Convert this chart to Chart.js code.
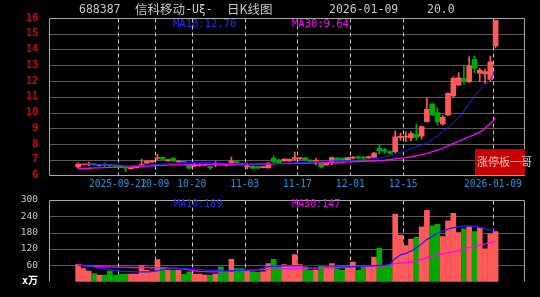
<!DOCTYPE html>
<html>
<head>
<meta charset="utf-8">
<script src="https://cdn.jsdelivr.net/npm/chart.js@4.4.1/dist/chart.umd.min.js"></script>
<style>
  html, body { margin: 0; padding: 0; background: #000; }
  #wrap { position: relative; width: 540px; height: 297px; background: #000; overflow: hidden; }
  canvas { position: absolute; left: 0; }
  .txt { position: absolute; white-space: nowrap; line-height: 1; font-family: "DejaVu Sans Mono", "Noto Sans CJK SC", monospace; }
  .title { color: #c8c8c8; font-size: 11.5px; top: 4px; }
  .cjk { font-family: "Noto Sans CJK SC", sans-serif; font-size: 12.5px; top: 3px; }
  .ma { font-size: 10.5px; }
  #stamp { position: absolute; left: 475px; top: 149px; width: 50px; height: 26px; background: #c80000; }
  #stampText { font-family: "Noto Sans CJK SC", sans-serif; font-size: 11px; color: #eac4c4; left: 477px; top: 156px; }
</style>
</head>
<body>
<div id="wrap">
  <canvas id="kline" width="540" height="190" style="top:0"></canvas>
  <canvas id="vol" width="540" height="107" style="top:190px"></canvas>

  <div class="txt title" style="left:79px">688387</div>
  <div class="txt title cjk" style="left:135px">信科移动</div>
  <div class="txt title" style="left:185px">-Uξ-</div>
  <div class="txt title cjk" style="left:227px">日K线图</div>
  <div class="txt title" id="tDate" style="left:329px"></div>
  <div class="txt title" id="tPct" style="left:427px"></div>

  <div class="txt ma" id="ma10Lbl" style="left:173px;top:18px;color:#2828ff"></div>
  <div class="txt ma" id="ma30Lbl" style="left:292px;top:18px;color:#ff00ff"></div>
  <div class="txt ma" id="vma10Lbl" style="left:174px;top:199px;color:#2828ff;font-size:10px"></div>
  <div class="txt ma" id="vma30Lbl" style="left:292px;top:199px;color:#ff00ff;font-size:10px"></div>

  <div id="stamp"></div>
  <div class="txt" id="stampText">涨停板一哥</div>
</div>

<script>
// trading days shown
const dates = [
  '2025-09-10','2025-09-11','2025-09-12','2025-09-15','2025-09-16','2025-09-17','2025-09-18','2025-09-19',
  '2025-09-22','2025-09-23','2025-09-24','2025-09-25','2025-09-26','2025-09-29','2025-09-30',
  '2025-10-09','2025-10-10','2025-10-13','2025-10-14','2025-10-15','2025-10-16','2025-10-17',
  '2025-10-20','2025-10-21','2025-10-22','2025-10-23','2025-10-24','2025-10-27','2025-10-28','2025-10-29','2025-10-30','2025-10-31',
  '2025-11-03','2025-11-04','2025-11-05','2025-11-06','2025-11-07','2025-11-10','2025-11-11','2025-11-12','2025-11-13','2025-11-14',
  '2025-11-17','2025-11-18','2025-11-19','2025-11-20','2025-11-21','2025-11-24','2025-11-25','2025-11-26','2025-11-27','2025-11-28',
  '2025-12-01','2025-12-02','2025-12-03','2025-12-04','2025-12-05','2025-12-08','2025-12-09','2025-12-10','2025-12-11','2025-12-12',
  '2025-12-15','2025-12-16','2025-12-17','2025-12-18','2025-12-19','2025-12-22','2025-12-23','2025-12-24','2025-12-25','2025-12-26',
  '2025-12-29','2025-12-30','2025-12-31',
  '2026-01-05','2026-01-06','2026-01-07','2026-01-08','2026-01-09'
];

const open = [
  6.55, 6.70, 6.70, 6.74, 6.64, 6.70, 6.66, 6.64, 6.60, 6.52,
  6.44, 6.50, 6.64, 6.78, 6.86, 7.08, 7.15, 6.94, 7.10, 6.86,
  6.88, 6.68, 6.60, 6.64, 6.66, 6.54, 6.68, 6.72, 6.70, 6.78,
  6.88, 6.77, 6.55, 6.60, 6.56, 6.50, 6.48, 7.09, 6.98, 6.92,
  6.92, 7.03, 7.05, 7.12, 6.98, 6.90, 6.79, 6.67, 6.88, 7.11,
  7.09, 6.98, 7.10, 7.15, 7.12, 7.11, 7.16, 7.73, 7.65, 7.52,
  7.51, 8.42, 8.44, 8.38, 8.63, 8.50, 9.42, 10.54, 9.99, 9.27,
  9.84, 11.05, 11.75, 12.17, 11.96, 13.37, 12.50, 12.45, 12.10, 14.22
];
const high = [
  6.80, 6.78, 6.86, 6.77, 6.70, 6.76, 6.70, 6.66, 6.63, 6.54,
  6.52, 6.58, 7.02, 6.95, 6.98, 7.34, 7.18, 7.02, 7.12, 6.94,
  6.90, 6.70, 6.78, 6.76, 6.73, 6.56, 6.88, 6.75, 6.72, 7.17,
  6.92, 6.80, 6.79, 6.62, 6.58, 6.56, 6.82, 7.24, 7.02, 7.08,
  7.05, 7.49, 7.14, 7.14, 7.00, 7.09, 6.82, 6.84, 7.17, 7.14,
  7.12, 7.16, 7.20, 7.24, 7.24, 7.22, 7.47, 8.00, 7.72, 7.58,
  8.84, 8.70, 8.78, 8.78, 9.27, 9.15, 10.90, 10.60, 10.29, 9.80,
  11.25, 12.27, 12.53, 13.00, 13.54, 13.59, 12.80, 12.75, 13.59, 15.86
];
const low = [
  6.45, 6.66, 6.62, 6.64, 6.60, 6.58, 6.56, 6.55, 6.52, 6.24,
  6.40, 6.46, 6.62, 6.76, 6.82, 7.00, 7.00, 6.90, 6.88, 6.84,
  6.80, 6.42, 6.54, 6.58, 6.63, 6.39, 6.56, 6.64, 6.58, 6.67,
  6.76, 6.66, 6.42, 6.44, 6.45, 6.48, 6.46, 6.80, 6.76, 6.90,
  6.90, 6.98, 7.02, 6.96, 6.86, 6.67, 6.50, 6.64, 6.67, 6.90,
  6.90, 6.95, 7.06, 7.05, 6.98, 7.08, 7.12, 7.36, 7.42, 7.36,
  7.45, 8.25, 8.15, 8.20, 8.25, 8.30, 9.38, 9.80, 9.20, 9.20,
  9.80, 10.95, 11.70, 11.80, 11.90, 12.53, 11.96, 11.85, 12.00, 14.10
];
const close = [
  6.72, 6.74, 6.74, 6.67, 6.68, 6.66, 6.63, 6.60, 6.56, 6.47,
  6.50, 6.54, 6.68, 6.92, 6.94, 7.12, 7.04, 6.98, 6.92, 6.90,
  6.84, 6.46, 6.64, 6.68, 6.70, 6.50, 6.74, 6.68, 6.62, 6.92,
  6.78, 6.68, 6.60, 6.46, 6.47, 6.54, 6.79, 6.88, 6.79, 7.05,
  7.03, 7.13, 7.12, 6.99, 6.88, 6.95, 6.54, 6.81, 7.13, 6.92,
  6.92, 7.13, 7.16, 7.12, 7.10, 7.20, 7.43, 7.57, 7.55, 7.42,
  8.46, 8.48, 8.50, 8.66, 8.43, 9.10, 10.20, 9.84, 9.41, 9.70,
  11.22, 12.17, 12.20, 12.02, 12.95, 12.80, 12.70, 12.60, 13.22, 15.86
];

// price moving averages
const ma10 = [
  6.77, 6.76, 6.74, 6.72, 6.70, 6.69, 6.68, 6.67, 6.66, 6.64,
  6.63, 6.63, 6.64, 6.66, 6.68, 6.70, 6.72, 6.75, 6.77, 6.79,
  6.81, 6.82, 6.83, 6.84, 6.84, 6.82, 6.80, 6.79, 6.78, 6.76,
  6.74, 6.73, 6.72, 6.72, 6.73, 6.73, 6.74, 6.75, 6.77, 6.78,
  6.79, 6.80, 6.81, 6.83, 6.86, 6.88, 6.90, 6.91, 6.92, 6.93,
  6.94, 6.95, 6.97, 6.99, 7.01, 7.03, 7.06, 7.10, 7.19, 7.28,
  7.38, 7.47, 7.58, 7.70, 7.82, 7.93, 8.06, 8.28, 8.52, 8.78,
  9.05, 9.32, 9.70, 10.10, 10.58, 11.05, 11.45, 11.78, 12.08, 12.70
];
const ma30 = [
  6.42, 6.44, 6.46, 6.48, 6.49, 6.50, 6.51, 6.52, 6.52, 6.53,
  6.54, 6.56, 6.58, 6.60, 6.62, 6.64, 6.65, 6.66, 6.67, 6.68,
  6.68, 6.69, 6.69, 6.70, 6.70, 6.71, 6.71, 6.72, 6.71, 6.70,
  6.70, 6.70, 6.71, 6.72, 6.73, 6.73, 6.74, 6.74, 6.75, 6.76,
  6.76, 6.77, 6.77, 6.78, 6.78, 6.79, 6.80, 6.80, 6.81, 6.82,
  6.84, 6.86, 6.88, 6.89, 6.90, 6.91, 6.92, 6.94, 6.97, 7.01,
  7.05, 7.09, 7.14, 7.19, 7.25, 7.33, 7.41, 7.51, 7.61, 7.73,
  7.88, 8.04, 8.17, 8.32, 8.46, 8.60, 8.75, 9.00, 9.30, 9.64
];

// volume, 万手
const volume = [
  63, 48, 39, 30, 24, 24, 39, 24, 27, 28,
  28, 28, 58, 42, 36, 81, 51, 42, 42, 42,
  27, 36, 28, 28, 24, 24, 28, 54, 34, 82,
  48, 48, 39, 36, 34, 36, 66, 82, 54, 63,
  60, 99, 63, 54, 42, 42, 58, 54, 66, 46,
  42, 54, 72, 42, 60, 54, 90, 123, 60, 56,
  247, 171, 132, 156, 162, 201, 261, 204, 210, 165,
  223, 250, 180, 193, 201, 183, 198, 120, 175, 183
];
const vma10 = [
  60, 58, 56, 53, 50, 47, 44, 41, 39, 38,
  37, 36, 36, 36, 37, 40, 44, 46, 47, 48,
  48, 47, 46, 45, 43, 42, 41, 40, 39, 40,
  41, 42, 42, 43, 45, 50, 55, 57, 57, 58,
  58, 58, 59, 59, 59, 60, 60, 60, 58, 56,
  55, 54, 55, 56, 57, 58, 59, 60, 60, 64,
  85, 98, 104, 112, 124, 138, 155, 165, 178, 185,
  192, 198, 201, 203, 204, 203, 199, 193, 189, 189
];
const vma30 = [
  62, 60, 58, 56, 55, 54, 54, 53, 53, 53,
  52, 52, 52, 52, 51, 51, 51, 50, 50, 49,
  46, 43, 40, 38, 37, 36, 36, 36, 37, 38,
  39, 40, 41, 42, 43, 44, 45, 46, 46, 47,
  48, 48, 49, 49, 50, 50, 51, 51, 51, 52,
  52, 53, 54, 55, 55, 56, 57, 57, 58, 62,
  66, 68, 70, 72, 76, 82, 88, 94, 100, 103,
  106, 110, 114, 119, 126, 130, 134, 138, 143, 147
];

const xTickDates = ['2025-09-22', '2025-10-09', '2025-10-20', '2025-11-03', '2025-11-17', '2025-12-01', '2025-12-15', '2026-01-09'];
const xTickLabels = ['2025-09-22', '10-09', '10-20', '11-03', '11-17', '12-01', '12-15', '2026-01-09'];
const priceTicks = [6, 7, 8, 9, 10, 11, 12, 13, 14, 15, 16];
const volTicks = [0, 60, 120, 180, 240, 300];

const RED = '#ff5a5a';
const GREEN = '#00a800';
const MONO = '"DejaVu Sans Mono", "Noto Sans CJK SC", monospace';
Chart.defaults.font.family = MONO;

const candleColors = close.map((c, i) => c >= open[i] ? RED : GREEN);
const last = dates.length - 1;

document.getElementById('tDate').textContent = dates[last];
document.getElementById('tPct').textContent = ((close[last] / close[last - 1] - 1) * 100).toFixed(1);
document.getElementById('ma10Lbl').textContent = 'MA10:' + ma10[last].toFixed(2);
document.getElementById('ma30Lbl').textContent = 'MA30:' + ma30[last].toFixed(2);
document.getElementById('vma10Lbl').textContent = 'MA10:' + vma10[last];
document.getElementById('vma30Lbl').textContent = 'MA30:' + vma30[last];

// dotted rows, dashed date columns, frame, date labels
const frameGrid = {
  id: 'frameGrid',
  beforeDatasetsDraw(chart, args, opts) {
    const { ctx, chartArea: a, scales: { x, y } } = chart;
    const L = Math.round(a.left) - 0.5, R = Math.round(a.right) - 0.5;
    const T = Math.round(a.top) + 0.5, B = Math.round(a.bottom) - 0.5;
    ctx.save();
    ctx.lineWidth = 1;

    ctx.strokeStyle = '#b4b4b4';
    ctx.setLineDash([1, 1]);
    opts.rows.forEach(v => {
      const py = Math.round(y.getPixelForValue(v)) + 0.5;
      ctx.beginPath(); ctx.moveTo(L, py); ctx.lineTo(R, py); ctx.stroke();
    });

    ctx.strokeStyle = '#c8c8c8';
    ctx.setLineDash([4, 3]);
    xTickDates.forEach(d => {
      const px = Math.round(x.getPixelForValue(dates.indexOf(d) - 0.5)) + 0.5;
      ctx.beginPath(); ctx.moveTo(px, T); ctx.lineTo(px, B); ctx.stroke();
    });

    ctx.setLineDash([]);
    ctx.strokeStyle = '#a8a8a8';
    ctx.beginPath();
    ctx.moveTo(L, B); ctx.lineTo(L, T); ctx.lineTo(R, T); ctx.lineTo(R, B);
    if (opts.bottomLine) ctx.lineTo(L, B);
    ctx.stroke();
    ctx.restore();
  },
  afterDraw(chart, args, opts) {
    if (!opts.dateLabels) return;
    const { ctx, chartArea: a, scales: { x } } = chart;
    ctx.save();
    ctx.font = '9.6px ' + MONO;
    ctx.fillStyle = '#2090e0';
    ctx.textBaseline = 'middle';
    xTickDates.forEach((d, k) => {
      const px = x.getPixelForValue(dates.indexOf(d) - 0.5);
      const w = ctx.measureText(xTickLabels[k]).width;
      ctx.textAlign = px + w / 2 > a.right ? 'right' : 'center';
      ctx.fillText(xTickLabels[k], px, a.bottom + 9);
    });
    ctx.restore();
  }
};

const xScale = { type: 'linear', min: -0.336, max: 79.57, display: false };

new Chart(document.getElementById('kline'), {
  type: 'bar',
  data: {
    datasets: [
      {
        type: 'line', label: 'MA10',
        data: ma10.map((v, i) => ({ x: i, y: v })),
        borderColor: '#2020ff', borderWidth: 1, pointRadius: 0, tension: 0, order: 0
      },
      {
        type: 'line', label: 'MA30',
        data: ma30.map((v, i) => ({ x: i, y: v })),
        borderColor: '#ff00ff', borderWidth: 1.3, pointRadius: 0, tension: 0, order: 0
      },
      {
        label: 'body',
        data: dates.map((d, i) => ({ x: i, y: [open[i], close[i]] })),
        backgroundColor: candleColors,
        barThickness: 5, minBarLength: 1, grouped: false, order: 1
      },
      {
        label: 'wick',
        data: dates.map((d, i) => ({ x: i, y: [low[i], high[i]] })),
        backgroundColor: candleColors,
        barThickness: 1, grouped: false, order: 2
      }
    ]
  },
  options: {
    responsive: false,
    animation: false,
    events: [],
    layout: { padding: { top: 18, bottom: 14.5, left: 0, right: 15 } },
    plugins: {
      legend: { display: false },
      tooltip: { enabled: false },
      frameGrid: { rows: priceTicks.slice(1, -1), bottomLine: true, dateLabels: true }
    },
    scales: {
      x: xScale,
      y: {
        min: 6, max: 16,
        afterBuildTicks: s => { s.ticks = priceTicks.map(v => ({ value: v })); },
        afterFit: s => { s.width = 50; },
        grid: { display: false },
        border: { display: false },
        ticks: { color: '#e00000', padding: 4, font: { size: 10, weight: 'bold' } }
      }
    }
  },
  plugins: [frameGrid]
});

new Chart(document.getElementById('vol'), {
  type: 'bar',
  data: {
    datasets: [
      {
        type: 'line', label: 'MA10',
        data: vma10.map((v, i) => ({ x: i, y: v })),
        borderColor: '#2020ff', borderWidth: 1.3, pointRadius: 0, tension: 0, order: 0
      },
      {
        type: 'line', label: 'MA30',
        data: vma30.map((v, i) => ({ x: i, y: v })),
        borderColor: '#ff00ff', borderWidth: 1.3, pointRadius: 0, tension: 0, order: 0
      },
      {
        label: 'volume',
        data: volume.map((v, i) => ({ x: i, y: v })),
        backgroundColor: candleColors,
        barThickness: 5, grouped: false, order: 1
      }
    ]
  },
  options: {
    responsive: false,
    animation: false,
    events: [],
    layout: { padding: { top: 9, bottom: 15.3, left: 0, right: 15 } },
    plugins: {
      legend: { display: false },
      tooltip: { enabled: false },
      frameGrid: { rows: volTicks.slice(1, -1), bottomLine: false, dateLabels: false }
    },
    scales: {
      x: xScale,
      y: {
        min: 0, max: 300,
        afterBuildTicks: s => { s.ticks = volTicks.map(v => ({ value: v })); },
        afterFit: s => { s.width = 50; },
        grid: { display: false },
        border: { display: false },
        ticks: {
          padding: 4,
          callback: v => v === 0 ? 'x万' : v,
          color: c => c.tick && c.tick.value === 0 ? '#ffffff' : '#c8c8c8',
          font: c => c.tick && c.tick.value === 0 ? { size: 10, weight: 'bold' } : { size: 9.5 }
        }
      }
    }
  },
  plugins: [frameGrid]
});
</script>
</body>
</html>
